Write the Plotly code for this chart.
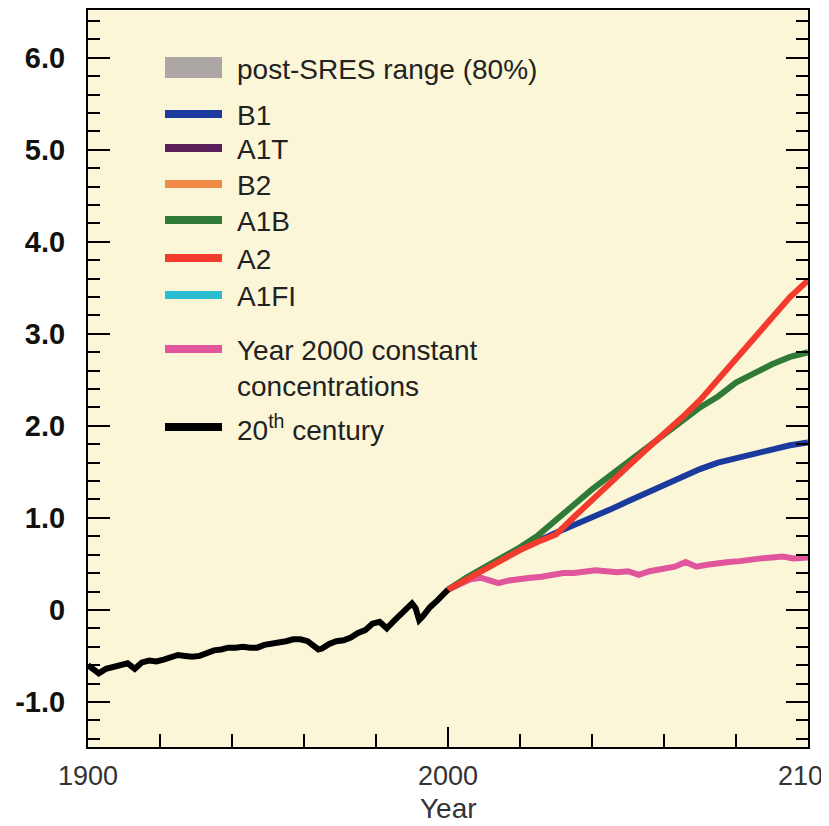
import plotly.graph_objects as go

# ---------------- data ----------------
years_20c = [1900, 1902, 1903, 1905, 1907, 1909, 1911, 1913, 1915, 1917, 1919, 1921, 1923,
             1925, 1927, 1929, 1931, 1933, 1935, 1937, 1939, 1941, 1943, 1945, 1947, 1949,
             1951, 1953, 1955, 1957, 1959, 1961, 1963, 1964, 1965, 1967, 1969, 1971, 1973,
             1975, 1977, 1979, 1981, 1982, 1983, 1985, 1987, 1989, 1990, 1991, 1992, 1993,
             1995, 1997, 1999, 2000]
temp_20c = [-0.60, -0.65, -0.69, -0.64, -0.62, -0.60, -0.58, -0.64, -0.57, -0.55, -0.56, -0.54,
            -0.52, -0.49, -0.50, -0.51, -0.50, -0.47, -0.44, -0.43, -0.41, -0.41, -0.40, -0.41,
            -0.41, -0.38, -0.37, -0.36, -0.34, -0.32, -0.32, -0.34, -0.40, -0.43, -0.42, -0.37,
            -0.34, -0.33, -0.30, -0.25, -0.22, -0.15, -0.13, -0.17, -0.20, -0.12, -0.05, 0.03,
            0.07, 0.02, -0.11, -0.07, 0.03, 0.10, 0.17, 0.22]

years_proj = [2000, 2005, 2010, 2015, 2020, 2025, 2030, 2035, 2040, 2045, 2050,
              2055, 2060, 2065, 2070, 2075, 2080, 2085, 2090, 2095, 2100]
b1 = [0.22, 0.34, 0.45, 0.56, 0.66, 0.75, 0.84, 0.92, 1.00, 1.09, 1.18,
      1.27, 1.35, 1.44, 1.53, 1.60, 1.65, 1.70, 1.75, 1.79, 1.82]
a1b = [0.22, 0.35, 0.46, 0.57, 0.68, 0.81, 0.98, 1.15, 1.31, 1.46, 1.61,
       1.76, 1.89, 2.06, 2.20, 2.32, 2.47, 2.57, 2.67, 2.75, 2.80]
a2 = [0.22, 0.33, 0.44, 0.55, 0.65, 0.74, 0.82, 1.01, 1.20, 1.38, 1.56,
      1.74, 1.91, 2.09, 2.28, 2.50, 2.73, 2.96, 3.17, 3.40, 3.58]

years_const = [2000, 2003, 2006, 2009, 2012, 2014, 2017, 2020, 2023, 2026, 2029, 2032, 2035,
               2038, 2041, 2044, 2047, 2050, 2053, 2056, 2060, 2063, 2066, 2069, 2072, 2075,
               2078, 2081, 2084, 2087, 2090, 2093, 2096, 2100]
const_conc = [0.22, 0.28, 0.33, 0.35, 0.31, 0.29, 0.32, 0.34, 0.35, 0.36, 0.38, 0.40, 0.40,
              0.42, 0.43, 0.42, 0.41, 0.42, 0.38, 0.42, 0.45, 0.47, 0.52, 0.47, 0.49, 0.51,
              0.52, 0.53, 0.55, 0.56, 0.57, 0.58, 0.56, 0.57]

ytick_vals = [-1, 0, 1, 2, 3, 4, 5, 6]
ytick_text = ["-1.0", "0", "1.0", "2.0", "3.0", "4.0", "5.0", "6.0"]
xtick_vals = [1900, 2000, 2100]
xtick_text = ["1900", "2000", "2100"]

legend_labels = ["post-SRES range (80%)", "B1", "A1T", "B2", "A1B", "A2", "A1FI",
                 "Year 2000 constant<br>concentrations", "20<sup>th</sup> century"]

# ---------------- styles ----------------
COL = {
    "grey": "#aca7a5", "B1": "#1b3a9e", "A1T": "#5b1f5a", "B2": "#f08a44",
    "A1B": "#2f7a36", "A2": "#f23b2c", "A1FI": "#2bbcd2", "const": "#e0559c",
    "20c": "#000000",
}
legend_colors = [COL["grey"], COL["B1"], COL["A1T"], COL["B2"], COL["A1B"], COL["A2"],
                 COL["A1FI"], COL["const"], COL["20c"]]
FONT = "Liberation Sans, Arial, Helvetica, sans-serif"
BG = "#fcf6d8"

# the page body has an 8 px margin: the figure starts at (8, 8) of the window
OFF = 8
W, H = 829 - OFF, 826 - OFF
ML, MT = 88 - OFF, 10 - OFF
MR = W - (808 - OFF)
MB = H - (747 - OFF)
PW, PH = W - ML - MR, H - MT - MB


def pxx(x):  # window pixel -> paper x
    return (x - OFF - ML) / PW


def pxy(y):  # window pixel -> paper y
    return (H - MB - (y - OFF)) / PH


fig = go.Figure()
LW = 6
fig.add_trace(go.Scatter(x=years_const, y=const_conc, mode="lines",
                         line=dict(color=COL["const"], width=LW), showlegend=False))
fig.add_trace(go.Scatter(x=years_proj, y=b1, mode="lines",
                         line=dict(color=COL["B1"], width=LW), showlegend=False))
fig.add_trace(go.Scatter(x=years_proj, y=a1b, mode="lines",
                         line=dict(color=COL["A1B"], width=LW), showlegend=False))
fig.add_trace(go.Scatter(x=years_proj, y=a2, mode="lines",
                         line=dict(color=COL["A2"], width=LW), showlegend=False))
fig.add_trace(go.Scatter(x=years_20c, y=temp_20c, mode="lines",
                         line=dict(color=COL["20c"], width=LW), showlegend=False))

# ---------------- manual legend ----------------
swatch_y = [67, 114, 148, 184, 220, 258, 295, 349, 427]
text_y = [70, 115, 149, 185, 221, 259, 296, 368, 428]
shapes = []
annotations = []
for i, (lab, col) in enumerate(zip(legend_labels, legend_colors)):
    if i == 0:
        shapes.append(dict(type="rect", xref="paper", yref="paper",
                           x0=pxx(165), x1=pxx(222), y0=pxy(57), y1=pxy(78),
                           fillcolor=col, line=dict(width=0), layer="above"))
    else:
        shapes.append(dict(type="line", xref="paper", yref="paper",
                           x0=pxx(165), x1=pxx(222), y0=pxy(swatch_y[i]), y1=pxy(swatch_y[i]),
                           line=dict(color=col, width=8), layer="above"))
    annotations.append(dict(text=lab, xref="paper", yref="paper", x=pxx(235), y=pxy(text_y[i]),
                            xanchor="left", yanchor="middle", showarrow=False, align="left",
                            font=dict(family=FONT, size=28, color="#222222")))

annotations.append(dict(text="Year", xref="paper", yref="paper", x=0.5, y=pxy(808),
                        xanchor="center", yanchor="middle", showarrow=False,
                        font=dict(family=FONT, size=28, color="#333333")))

fig.update_layout(
    width=W, height=H,
    margin=dict(l=ML, r=MR, t=MT, b=MB, pad=0, autoexpand=False),
    paper_bgcolor="white", plot_bgcolor=BG,
    showlegend=False,
    shapes=shapes, annotations=annotations,
    xaxis=dict(range=[1900, 2100], tickmode="array", tickvals=xtick_vals, ticktext=xtick_text,
               ticks="inside", ticklen=20, tickwidth=2, tickcolor="black",
               showline=True, linewidth=2, linecolor="black", mirror=True,
               showgrid=False, zeroline=False, ticklabelstandoff=4,
               ticklabeloverflow="allow",
               tickfont=dict(family=FONT, size=27, color="#333333"),
               minor=dict(tickmode="linear", tick0=1900, dtick=20, ticks="inside", ticklen=13,
                          tickwidth=2, tickcolor="black", showgrid=False)),
    yaxis=dict(range=[-1.49, 6.52], tickmode="array", tickvals=ytick_vals, ticktext=ytick_text,
               ticks="inside", ticklen=22, tickwidth=2, tickcolor="black",
               showline=True, linewidth=2, linecolor="black", mirror="allticks",
               showgrid=False, zeroline=False, ticklabelstandoff=15,
               ticklabeloverflow="allow",
               tickfont=dict(family=FONT, size=29, color="#111111", weight="bold"),
               minor=dict(tickmode="linear", tick0=0, dtick=0.2, ticks="inside", ticklen=12,
                          tickwidth=2, tickcolor="black", showgrid=False)),
)

fig.write_html("out.html")
